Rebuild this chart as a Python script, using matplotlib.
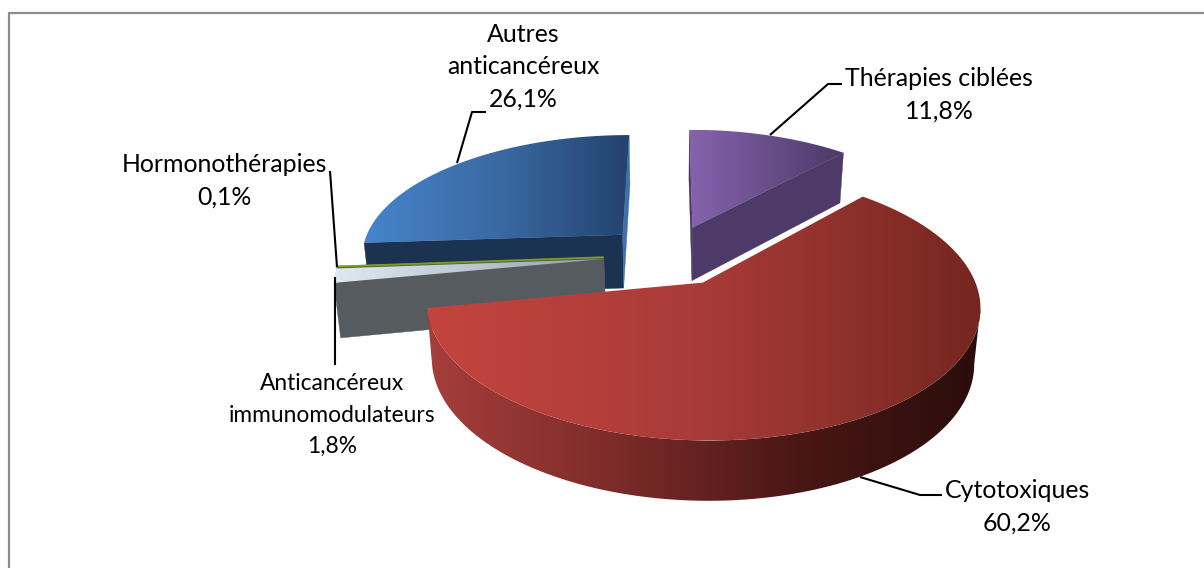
"""
Exploded 3D pie: share of anticancer drug classes.
"""

import numpy as np
import matplotlib.pyplot as plt
from matplotlib.colors import LinearSegmentedColormap
from matplotlib.patches import Polygon

categories = [
    "Thérapies ciblées",
    "Cytotoxiques",
    "Anticancéreux\nimmunomodulateurs",
    "Hormonothérapies",
    "Autres\nanticancéreux",
]
values = [11.8, 60.2, 1.8, 0.1, 26.1]
value_labels = ["11,8%", "60,2%", "1,8%", "0,1%", "26,1%"]

# perspective of the pie plane, fitted to the picture (pixels)
CX, CY = 669.5, 255
SX, SY = 263, 122
PERSP = 0.163
EXPLODE = 0.25
DEPTH = 54
BOTTOM_SHRINK = 0.98

# (top gradient stops, side gradient stops, cut face colour) per slice
styles = [
    (["#8663ad", "#6a4f8c", "#4c3866"], ["#4e3a68"], "#4e3a68"),
    (["#c4443f", "#a83b38", "#75271f"],
     ["#a63e3a", "#7d2c2a", "#4a1715", "#2a0d0b"], "#5a1f1d"),
    (["#dfe8f2", "#bcc7d6", "#8e9aae"], ["#565b5f"], "#565b5f"),
    (["#7c9a2e", "#5f7a22"], ["#4f651c"], "#4f651c"),
    (["#4684cb", "#3a6aa3", "#23436d"], ["#1b3251"], "#1b3251"),
]
draw_order = [4, 3, 2, 0, 1]

# label centre (x, y) and font size
label_pos = [(939, 95), (1017, 507), (332, 415), (224, 181), (523, 67)]
label_size = [17.9, 17.9, 16.4, 17.9, 17.9]
LINE_PX = 30.5
leaders = [
    [(770, 135), (828, 84), (842, 84)],
    [(860, 477), (920, 495), (942, 495)],
    [(335, 277), (335, 365)],
    [(330, 171), (337, 267)],
    [(457, 163), (472, 112), (486, 112)],
]


def project(x, y):
    w = 1 - PERSP * y
    return CX + SX * x / w, CY + SY * y / w, w


def lower(px, py, w):
    """Same points on the bottom face of the pie."""
    return CX + (px - CX) * BOTTOM_SHRINK, py + DEPTH / np.sqrt(w)


def fill_gradient(ax, xy, stops):
    poly = Polygon(xy, closed=True, facecolor="none", edgecolor="none")
    ax.add_patch(poly)
    if len(stops) == 1:
        poly.set_facecolor(stops[0])
        poly.set_edgecolor(stops[0])
        poly.set_linewidth(0.3)
        return
    cmap = LinearSegmentedColormap.from_list("g", stops)
    x0, x1 = xy[:, 0].min(), xy[:, 0].max()
    y0, y1 = xy[:, 1].min(), xy[:, 1].max()
    grad = np.linspace(0, 1, 256).reshape(1, -1)
    im = ax.imshow(grad, cmap=cmap, extent=(x0, x1, y1, y0), aspect="auto",
                   interpolation="bilinear", zorder=poly.get_zorder())
    im.set_clip_path(poly)


def draw_slice(ax, start, end, style):
    top_stops, side_stops, cut_color = style
    mid = np.radians((start + end) / 2)
    ox, oy = EXPLODE * np.sin(mid), -EXPLODE * np.cos(mid)

    th = np.radians(np.linspace(start, end, max(int(end - start) * 2, 4)))
    ax_x = ox + np.sin(th)
    ax_y = oy - np.cos(th)
    rx, ry, rw = project(ax_x, ax_y)
    ax0, ay0, aw0 = project(np.array([ox]), np.array([oy]))

    # outer wall, only where it faces the viewer
    keep = np.diff(rx) < 0
    if keep.any():
        idx = np.where(keep)[0]
        i0, i1 = idx[0], idx[-1] + 2
        sx, sy, sw = rx[i0:i1], ry[i0:i1], rw[i0:i1]
        bx, by = lower(sx, sy, sw)
        wall = np.column_stack([np.r_[sx, bx[::-1]], np.r_[sy, by[::-1]]])
        fill_gradient(ax, wall, side_stops)

    # flat cut faces, apex to rim
    for k in (0, -1):
        going_left = (rx[k] < ax0[0]) if k == 0 else (ax0[0] < rx[k])
        if not going_left:
            continue
        bx, by = lower(np.array([ax0[0], rx[k]]), np.array([ay0[0], ry[k]]),
                       np.array([aw0[0], rw[k]]))
        face = np.array([[ax0[0], ay0[0]], [rx[k], ry[k]],
                         [bx[1], by[1]], [bx[0], by[0]]])
        color = "#3f70ab" if k == -1 and start > 200 and end > 300 else cut_color
        fill_gradient(ax, face, [color])

    top = np.column_stack([np.r_[ax0, rx], np.r_[ay0, ry]])
    fill_gradient(ax, top, top_stops)
    if end - start < 1:
        ax.plot(top[:, 0], top[:, 1], color=top_stops[0], lw=1.3,
                solid_capstyle="butt")


fig = plt.figure(figsize=(12.04, 5.68), dpi=100)
ax = fig.add_axes([0, 0, 1, 1])

angles = np.r_[0, np.cumsum(values)] * 360 / np.sum(values)
for i in draw_order:
    draw_slice(ax, angles[i], angles[i + 1], styles[i])

for pts in leaders:
    xs, ys = zip(*pts)
    ax.plot(xs, ys, color="black", lw=1.5, solid_capstyle="butt")

for name, val, (x, y), size in zip(categories, value_labels, label_pos, label_size):
    ax.text(x, y, f"{name}\n{val}", ha="center", va="center", fontsize=size,
            family="Lato", color="black", linespacing=LINE_PX / (size * 1.137))

# chart frame: only the top and left edges show in the crop
ax.plot([9, 9, 1204], [568, 12.5, 12.5], color="#8c8c8c", lw=1.6)

ax.set_xlim(0, 1204)
ax.set_ylim(568, 0)
ax.axis("off")
fig.savefig("out.png", dpi=100)
